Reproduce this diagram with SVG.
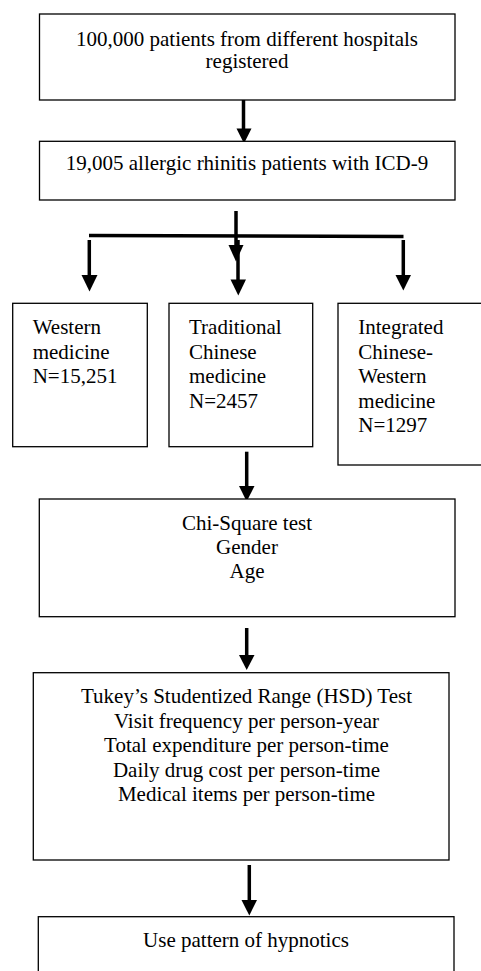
<svg xmlns="http://www.w3.org/2000/svg" width="481" height="971" viewBox="0 0 481 971">
<style>
.box{fill:#fff;stroke:#000;stroke-width:1.3}
.t{font-family:'Liberation Serif',Tinos,'Times New Roman',Times,serif;font-size:21px;fill:#000}
.c{text-anchor:middle}
.shaft{stroke:#000;stroke-width:3.5;fill:none}
.head{fill:#000}
</style>
<rect width="481" height="971" fill="#fff"/>
<g id="connectors">
<line class="shaft" x1="243.5" y1="94" x2="243.5" y2="130"/>
<polygon class="head" points="236.5,128.5 251.5,128.5 244,143.5"/>
<line class="shaft" x1="236" y1="211" x2="236" y2="248"/>
<polygon class="head" points="228.5,245 243.5,245 236,261.5"/>
<line class="shaft" x1="89" y1="235.5" x2="403.5" y2="236.5"/>
<line class="shaft" x1="89.3" y1="240" x2="89.3" y2="277"/>
<polygon class="head" points="81.5,275 97.5,275 89.5,291.5"/>
<line class="shaft" x1="238" y1="240" x2="238" y2="282"/>
<polygon class="head" points="230.5,279.5 246,279.5 238.3,295.5"/>
<line class="shaft" x1="403.3" y1="240" x2="403.3" y2="277"/>
<polygon class="head" points="395.5,275 411,275 403.3,290.5"/>
<line class="shaft" x1="246.7" y1="451.7" x2="246.7" y2="488"/>
<polygon class="head" points="239,486 254.5,486 246.7,501.5"/>
<line class="shaft" x1="246.7" y1="628" x2="246.7" y2="657"/>
<polygon class="head" points="239,655 254.5,655 246.7,670"/>
<line class="shaft" x1="249.3" y1="865" x2="249.3" y2="902"/>
<polygon class="head" points="241.5,900 257,900 249.3,915.5"/>
</g>
<g id="n1">
<rect class="box" x="39.5" y="14" width="415.5" height="86"/>
<text class="t c" x="247" y="45.7" font-family="Liberation Serif">100,000 patients from different hospitals</text>
<text class="t c" x="247" y="67.5">registered</text>
</g>
<g id="n2">
<rect class="box" x="39.5" y="141.3" width="415.5" height="58.7"/>
<text class="t c" x="247" y="170">19,005 allergic rhinitis patients with ICD-9</text>
</g>
<g id="n3">
<rect class="box" x="12.7" y="303.3" width="134.6" height="143.4"/>
<text class="t" x="32.7" y="334">Western</text>
<text class="t" x="32.7" y="358.5">medicine</text>
<text class="t" x="32.7" y="383">N=15,251</text>
</g>
<g id="n4">
<rect class="box" x="169" y="303.3" width="143.7" height="143.4"/>
<text class="t" x="189" y="334">Traditional</text>
<text class="t" x="189" y="358.5">Chinese</text>
<text class="t" x="189" y="383">medicine</text>
<text class="t" x="189" y="407.5">N=2457</text>
</g>
<g id="n5">
<rect class="box" x="338" y="303.3" width="150" height="161.7"/>
<text class="t" x="358.3" y="334">Integrated</text>
<text class="t" x="358.3" y="358.5">Chinese-</text>
<text class="t" x="358.3" y="383">Western</text>
<text class="t" x="358.3" y="407.5">medicine</text>
<text class="t" x="358.3" y="432">N=1297</text>
</g>
<g id="n6">
<rect class="box" x="39.3" y="499" width="415.7" height="117.7"/>
<text class="t c" x="247" y="530">Chi-Square test</text>
<text class="t c" x="247" y="554">Gender</text>
<text class="t c" x="247" y="578">Age</text>
</g>
<g id="n7">
<rect class="box" x="33.3" y="672.7" width="415.7" height="187.3"/>
<text class="t c" x="246.5" y="703">Tukey’s Studentized Range (HSD) Test</text>
<text class="t c" x="246.5" y="727.5">Visit frequency per person-year</text>
<text class="t c" x="246.5" y="752">Total expenditure per person-time</text>
<text class="t c" x="246.5" y="776.5">Daily drug cost per person-time</text>
<text class="t c" x="246.5" y="801">Medical items per person-time</text>
</g>
<g id="n8">
<rect class="box" x="38.3" y="916.7" width="415.7" height="70"/>
<text class="t c" x="246" y="946.7">Use pattern of hypnotics</text>
</g>
</svg>
